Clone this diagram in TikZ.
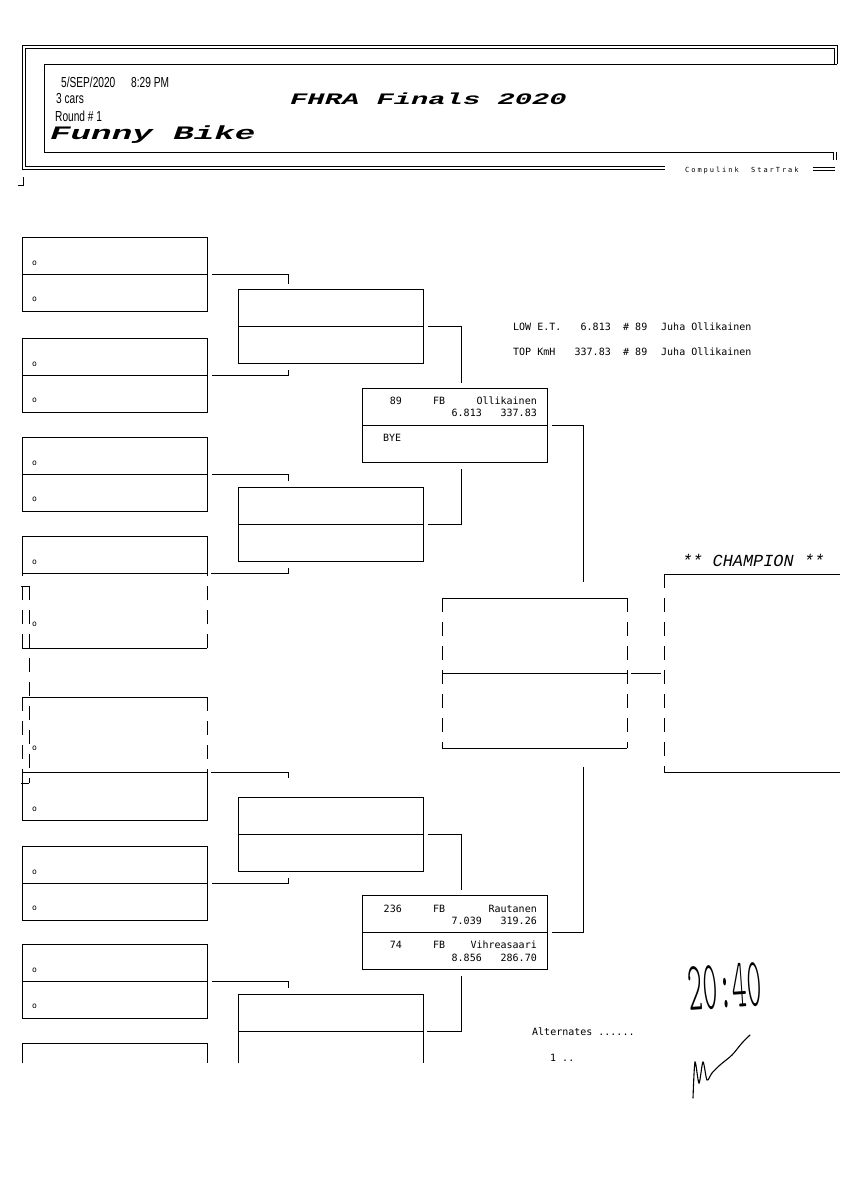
\documentclass[tikz,border=0pt]{standalone}
\usepackage{fontspec}
\usepackage{graphicx}
\usepackage{tikz}
\usetikzlibrary{positioning}

\newfontfamily\monofont{DejaVu Sans Mono}
\newfontfamily\narrowfont[FakeStretch=0.7]{Liberation Sans}
\newfontfamily\courfont[FakeStretch=1.8]{Liberation Mono}
\newfontfamily\champfont{Liberation Mono}
\newfontfamily\brandfont[LetterSpace=28]{DejaVu Sans Mono}
\newfontfamily\handfont{Latin Modern Mono Light}

\tikzset{
  slot/.style={draw, line width=0.9pt, rectangle, minimum width=185pt, minimum height=74pt, inner sep=0pt, anchor=north west},
  ghost/.style={rectangle, minimum width=185pt, inner sep=0pt, anchor=north west},
  wire/.style={line width=0.9pt},
  gappy/.style={line width=0.9pt, dash pattern=on 14pt off 10pt},
  dot/.style={font=\monofont\fontsize{8}{8}\selectfont, inner sep=0pt},
  entry/.style={font=\monofont\fontsize{10}{12}\selectfont, inner sep=0pt},
  head/.style={font=\narrowfont\fontsize{14.5}{14.5}\selectfont, inner sep=0pt, anchor=base west},
}

\begin{document}
\begin{tikzpicture}[x=1pt, y=-1pt]
    \fill[white] (0,0) rectangle (848,1200);
    \useasboundingbox (0,0) rectangle (848,1200);

    % Draw the header frame
    \draw[wire] (22,169) -- (22,45) -- (837,45) -- (837,64);
    \draw[wire] (25,166) -- (25,48) -- (834,48) -- (834,64);
    \draw[wire] (22,169) -- (665,169);
    \draw[wire] (25,166) -- (665,166);
    \draw[wire] (833,152) -- (44,152) -- (44,64) -- (837,64);
    \draw[wire] (833,152) -- (833,160);
    \draw[wire] (836,152) -- (836,160);
    \draw[wire] (813,167) -- (835,167);
    \draw[wire] (813,170) -- (835,170);
    \draw[wire] (18,185) -- (23,185) -- (23,177);

    % Header texts
    \node[head] (date) at (61,87) {5/SEP/2020};
    \node[head] (time) at (131,87) {8:29 PM};
    \node[head] (cars) at (56,103) {3 cars};
    \node[head] (round) at (55,121) {Round \# 1};
    \node[anchor=base west, inner sep=0pt, font=\courfont\bfseries\itshape\fontsize{19}{19}\selectfont] (class) at (50,139) {Funny Bike};
    \node[anchor=base west, inner sep=0pt, font=\courfont\bfseries\itshape\fontsize{16}{16}\selectfont] (event) at (290,104) {FHRA Finals 2020};
    \node[anchor=base west, inner sep=0pt, font=\brandfont\fontsize{7}{7}\selectfont] (brand) at (685,172) {Compulink~~StarTrak};

    % Draw the first round slots
    \foreach \nm/\yy in {rA/237, rB/338, rC/437, rF/846, rG/944} {
        \node[slot] (\nm) at (22,\yy) {};
        \draw[wire] (\nm.west) -- (\nm.east);
        \node[dot] (\nm-hi) at (34.5,\yy+26) {o};
        \node[dot] (\nm-lo) at (34.5,\yy+62) {o};
    }

    % Slot with the dashed lower half
    \node[ghost, minimum height=112pt] (rD) at (22,536) {};
    \draw[wire] (rD.north west) rectangle ([yshift=-37pt]rD.north east);
    \draw[gappy] (rD.south west) -- ([yshift=-37pt]rD.north west);
    \draw[gappy] (rD.south east) -- ([yshift=-37pt]rD.north east);
    \draw[wire] (rD.south west) -- (rD.south east);
    \node[dot] (rD-hi) at (34.5,562) {o};
    \node[dot] (rD-lo) at (34.5,624) {o};

    % Slot with the dashed upper half
    \node[ghost, minimum height=123pt] (rE) at (22,697) {};
    \draw[wire] (rE.north west) -- (rE.north east);
    \draw[gappy] (rE.north west) -- ([yshift=48pt]rE.south west);
    \draw[gappy] (rE.north east) -- ([yshift=48pt]rE.south east);
    \draw[wire] ([yshift=48pt]rE.south west) rectangle (rE.south east);
    \node[dot] (rE-hi) at (34.5,748) {o};
    \node[dot] (rE-lo) at (34.5,809) {o};

    % Stray bracket between them
    \draw[wire] (21,586) -- (29,586);
    \draw[gappy] (29,586) -- (29,783);
    \draw[wire] (21,783) -- (29,783);

    % Last slot, cut by the page
    \node[ghost, minimum height=20pt] (rH) at (22,1043) {};
    \draw[wire] (rH.south west) -- (rH.north west) -- (rH.north east) -- (rH.south east);

    % Draw the second round slots
    \node[slot] (sA) at (238,289) {};
    \node[slot] (sB) at (238,487) {};
    \node[slot] (sC) at (238,797) {};
    \foreach \nm in {sA, sB, sC}
        \draw[wire] (\nm.west) -- (\nm.east);
    \node[ghost, minimum height=69pt] (sD) at (238,994) {};
    \draw[wire] (sD.south west) -- (sD.north west) -- (sD.north east) -- (sD.south east);
    \draw[wire] ([yshift=-37pt]sD.north west) -- ([yshift=-37pt]sD.north east);

    % Draw the semi final slots
    \node[slot] (tA) at (362,388) {};
    \node[slot] (tB) at (362,895) {};
    \draw[wire] (tA.west) -- (tA.east);
    \draw[wire] (tB.west) -- (tB.east);

    % Draw the final slot
    \node[ghost, minimum height=150pt] (fA) at (442,598) {};
    \draw[wire] (fA.north west) -- (fA.north east);
    \draw[wire] (fA.west) -- (fA.east);
    \draw[wire] (fA.south west) -- (fA.south east);
    \draw[gappy] (fA.north west) -- (fA.south west);
    \draw[gappy] (fA.north east) -- (fA.south east);

    % Draw the champion slot
    \node[ghost, minimum width=176pt, minimum height=198pt] (cA) at (664,574) {};
    \draw[wire] (cA.north east) -- (cA.north west);
    \draw[gappy] (cA.north west) -- (cA.south west);
    \draw[wire] (cA.south west) -- (cA.south east);
    \node[anchor=base west, inner sep=0pt, font=\champfont\itshape\fontsize{16.9}{17}\selectfont] (champ) at (682,566) {** CHAMPION **};

    % Connect first round to second round
    \draw[wire] ([xshift=4pt]rA.east) -| ([xshift=50pt,yshift=5pt]sA.north west);
    \draw[wire] ([xshift=4pt]rB.east) -| ([xshift=50pt,yshift=-6pt]sA.south west);
    \draw[wire] ([xshift=4pt]rC.east) -| ([xshift=50pt,yshift=6pt]sB.north west);
    \draw[wire] ([xshift=4pt,yshift=-37pt]rD.north east) -| ([xshift=50pt,yshift=-6pt]sB.south west);
    \draw[wire] ([xshift=4pt,yshift=48pt]rE.south east) -| ([xshift=50pt,yshift=19pt]sC.north west);
    \draw[wire] ([xshift=4pt]rF.east) -| ([xshift=50pt,yshift=-6pt]sC.south west);
    \draw[wire] ([xshift=4pt]rG.east) -| ([xshift=50pt,yshift=6pt]sD.north west);

    % Connect second round to semi finals
    \draw[wire] ([xshift=4pt]sA.east) -| ([xshift=99pt,yshift=5pt]tA.north west);
    \draw[wire] ([xshift=4pt]sB.east) -| ([xshift=99pt,yshift=-6pt]tA.south west);
    \draw[wire] ([xshift=4pt]sC.east) -| ([xshift=99pt,yshift=5pt]tB.north west);
    \draw[wire] ([xshift=4pt,yshift=-37pt]sD.north east) -| ([xshift=99pt,yshift=-6pt]tB.south west);

    % Connect semi finals to final and champion
    \draw[wire] ([xshift=4pt]tA.east) -| ([xshift=141pt,yshift=16pt]fA.north west);
    \draw[wire] ([xshift=4pt]tB.east) -| ([xshift=141pt,yshift=-19pt]fA.south west);
    \draw[wire] ([xshift=4pt]fA.east) -- ([xshift=-3pt]cA.west);

    % Semi final entries
    \node[entry, anchor=base east] (nA1) at (402,404) {89};
    \node[entry, anchor=base west] (cA1) at (433,404) {FB};
    \node[entry, anchor=base east] (dA1) at (537,404) {Ollikainen};
    \node[entry, anchor=base east] (eA1) at (482,416) {6.813};
    \node[entry, anchor=base east] (vA1) at (537,416) {337.83};
    \node[entry, anchor=base west] (nA2) at (383,441) {BYE};

    \node[entry, anchor=base east] (nB1) at (402,912) {236};
    \node[entry, anchor=base west] (cB1) at (433,912) {FB};
    \node[entry, anchor=base east] (dB1) at (537,912) {Rautanen};
    \node[entry, anchor=base east] (eB1) at (482,924) {7.039};
    \node[entry, anchor=base east] (vB1) at (537,924) {319.26};
    \node[entry, anchor=base east] (nB2) at (402,948) {74};
    \node[entry, anchor=base west] (cB2) at (433,948) {FB};
    \node[entry, anchor=base east] (dB2) at (537,948) {Vihreasaari};
    \node[entry, anchor=base east] (eB2) at (482,961) {8.856};
    \node[entry, anchor=base east] (vB2) at (537,961) {286.70};

    % Best of the event
    \node[entry, anchor=base west] (lowlab) at (513,330) {LOW E.T.};
    \node[entry, anchor=base east] (lowval) at (611,330) {6.813};
    \node[entry, anchor=base west] (lownum) at (623,330) {\#~89};
    \node[entry, anchor=base west] (lowdrv) at (661,330) {Juha Ollikainen};
    \node[entry, anchor=base west] (toplab) at (513,355) {TOP KmH};
    \node[entry, anchor=base east] (topval) at (611,355) {337.83};
    \node[entry, anchor=base west] (topnum) at (623,355) {\#~89};
    \node[entry, anchor=base west] (topdrv) at (661,355) {Juha Ollikainen};

    % Alternates
    \node[entry, anchor=base west] (alt) at (532,1035) {Alternates~......};
    \node[entry, anchor=base west] (alt1) at (550,1061) {1~..};

    % Hand written time and initials
    \node[inner sep=0pt, rotate=4, font=\handfont\fontsize{70}{70}\selectfont] (clock) at (725,987) {\scalebox{0.4}[1]{20:40}};
    \draw[line width=1.1pt, line cap=round] plot[smooth] coordinates {(693,1098) (695,1062) (699,1083) (703,1062) (707,1080) (712,1073) (720,1065) (732,1055) (742,1043) (750,1035)};
\end{tikzpicture}
\end{document}
